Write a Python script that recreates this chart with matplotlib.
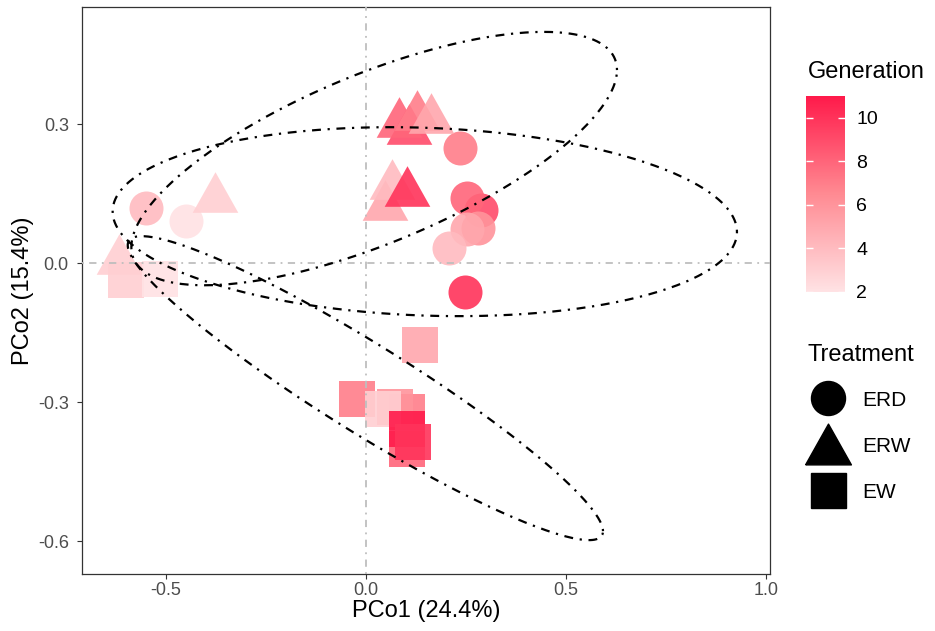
import numpy as np
import matplotlib.pyplot as plt
from matplotlib.colors import LinearSegmentedColormap, Normalize
from matplotlib.lines import Line2D
import matplotlib.cm as cm

plt.rcParams['font.family'] = ['Liberation Sans', 'DejaVu Sans']

# PCoA scores, in drawing order
treatment = ['ERD'] * 9 + ['ERW'] * 9 + ['EW'] * 10
pco1 = [-0.550, -0.448, 0.235, 0.287, 0.253, 0.281, 0.253, 0.207, 0.249,
        -0.617, -0.376, 0.109, 0.083, 0.127, 0.163, 0.048, 0.066, 0.102,
        -0.600, -0.515, 0.135, 0.103, 0.072, -0.022, 0.043, 0.103, 0.102, 0.118]
pco2 = [0.120, 0.091, 0.249, 0.114, 0.140, 0.076, 0.074, 0.032, -0.063,
        0.019, 0.153, 0.301, 0.316, 0.330, 0.325, 0.137, 0.181, 0.166,
        -0.037, -0.035, -0.177, -0.322, -0.311, -0.294, -0.314, -0.402, -0.358, -0.386]
generation = [4, 2, 7, 9, 8, 6, 5, 4, 10,
              3, 3, 9, 8, 7, 5, 5, 4, 10,
              3, 2, 5, 7, 6, 7, 3, 8, 11, 10]

# 95% ellipses per treatment (centre + shape matrix)
ell_treatment = ['ERD', 'ERW', 'EW']
ell_cx = [0.1475, 0.021, -0.001]
ell_cy = [0.0896, 0.2258, -0.2698]
ell_vx = [0.6084, 0.3681, 0.35254]
ell_vy = [0.0416, 0.07479, 0.10764]
ell_cxy = [-0.01727, 0.11591, -0.18328]

x_ticks = [-0.5, 0.0, 0.5, 1.0]
y_ticks = [-0.6, -0.3, 0.0, 0.3]
gen_ticks = [2, 4, 6, 8, 10]

cmap = LinearSegmentedColormap.from_list('gen', ['#FFE2E4', '#FF8A92', '#FF1A4A'])
norm = Normalize(2, 11)

tri = [(-1, -0.89), (1, -0.89), (0, 0.89), (-1, -0.89)]
marcadores = {'ERD': ('o', 600), 'ERW': (tri, 1080), 'EW': ('s', 640)}
dotdash = (0, (1, 3, 4, 3))

fig = plt.figure(figsize=(9.35, 6.31), dpi=100)
ax = fig.add_axes([82 / 935, 1 - 574 / 631, (770 - 82) / 935, (574 - 7) / 631])

for x, y, g, t in zip(pco1, pco2, generation, treatment):
    m, s = marcadores[t]
    ax.scatter(x, y, s=s, marker=m, color=cmap(norm(g)), alpha=0.9,
               linewidths=0, zorder=2)

ax.axvline(0, color='#BEBEBE', lw=1.3, ls=dotdash, zorder=3)
ax.axhline(0, color='#BEBEBE', lw=1.3, ls=dotdash, zorder=3)

t = np.linspace(0, 2 * np.pi, 400)
for i in range(len(ell_treatment)):
    S = np.array([[ell_vx[i], ell_cxy[i]], [ell_cxy[i], ell_vy[i]]])
    L = np.linalg.cholesky(S)
    pts = L @ np.vstack([np.cos(t), np.sin(t)])
    ax.plot(ell_cx[i] + pts[0], ell_cy[i] + pts[1], color='black', lw=1.6,
            ls=dotdash, zorder=4)

ax.set_xlim(-0.709, 1.01)
ax.set_ylim(-0.671, 0.553)
ax.set_xticks(x_ticks)
ax.set_xticklabels(['-0.5', '0.0', '0.5', '1.0'])
ax.set_yticks(y_ticks)
ax.set_yticklabels(['-0.6', '-0.3', '0.0', '0.3'])
for sp in ax.spines.values():
    sp.set_color('#333333')
    sp.set_linewidth(0.9)
ax.tick_params(length=3.5, width=0.8, color='#333333', labelsize=13,
               labelcolor='#4D4D4D')
ax.tick_params(axis='y', pad=6)
ax.tick_params(axis='x', pad=2)
ax.set_xlabel('PCo1 (24.4%)', fontsize=17, labelpad=1)
ax.set_ylabel('PCo2 (15.4%)', fontsize=17, labelpad=3)

# Generation colourbar
cax = fig.add_axes([806 / 935, 1 - 291.7 / 631, 39 / 935, 195.7 / 631])
cb = fig.colorbar(cm.ScalarMappable(norm=norm, cmap=cmap), cax=cax, ticks=gen_ticks)
cb.outline.set_visible(False)
cax.tick_params(direction='in', length=5, width=1, colors='white', left=True,
                right=True, labelsize=14, labelcolor='black', pad=8)
fig.text(808 / 935, 1 - 72 / 631, 'Generation', fontsize=17, va='center')

# Treatment legend
fig.text(808 / 935, 1 - 355 / 631, 'Treatment', fontsize=17, va='center')
handles = [Line2D([], [], marker='o', ms=24.5, color='black', ls='none'),
           Line2D([], [], marker=tri, ms=33, color='black', ls='none'),
           Line2D([], [], marker='s', ms=25.2, color='black', ls='none')]
fig.legend(handles, ell_treatment, loc='upper left',
           bbox_to_anchor=(808 / 935, 1 - 390 / 631), frameon=False,
           fontsize=15, handlelength=1.9, handleheight=1.0,
           labelspacing=1.22, handletextpad=0.7, borderpad=0, borderaxespad=0)

fig.savefig('out.png', dpi=100)
